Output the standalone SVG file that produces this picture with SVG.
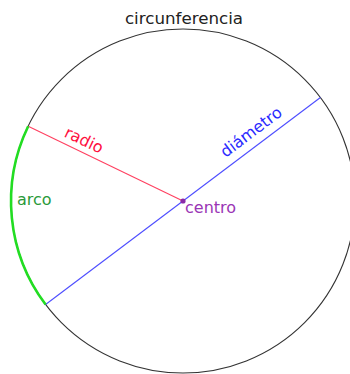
<svg xmlns="http://www.w3.org/2000/svg" width="350" height="374" viewBox="0 0 350 374">
<style>
text{font-family:"DejaVu Sans","Liberation Sans",sans-serif;font-size:16px}
.circ{fill:none;stroke:#333;stroke-width:1.1}
</style>
<rect width="350" height="374" fill="#fff"/>
<g id="circunferencia">
<circle class="circ" cx="183" cy="201" r="172"/>
<text x="184" y="24" text-anchor="middle" fill="#222" style="font-size:16.7px">circunferencia</text>
</g>
<g id="connectors">
<line id="radio-line" x1="183" y1="201" x2="28.2" y2="126.2" stroke="#ff4060" stroke-width="1.1"/>
<line id="diametro-line" x1="45.6" y1="304.5" x2="320.4" y2="97.5" stroke="#4d4dff" stroke-width="1.1"/>
<path id="arco-line" d="M28.2,126.2 A172,172 0 0 0 45.6,304.5" fill="none" stroke="#22dd22" stroke-width="2.6"/>
</g>
<g id="radio">
<text transform="translate(81.7,145) rotate(25.8)" text-anchor="middle" fill="#ff1040">radio</text>
</g>
<g id="diametro">
<text transform="translate(254.4,136.3) rotate(-37)" text-anchor="middle" fill="#2a2aff">diámetro</text>
</g>
<g id="arco">
<text x="17" y="205" fill="#2a9a3a">arco</text>
</g>
<g id="centro">
<circle cx="183" cy="201" r="2.6" fill="#8a2aa8"/>
<text x="185" y="213" fill="#9a35b5">centro</text>
</g>
</svg>
